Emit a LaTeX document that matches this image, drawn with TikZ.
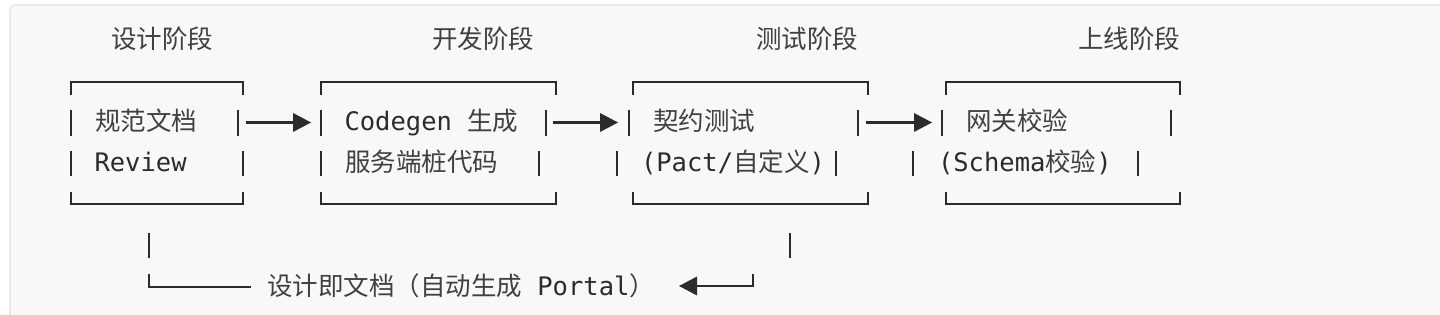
\documentclass[tikz,border=0pt]{standalone}
\usepackage{fontspec}
\setmonofont{DejaVu Sans Mono}
\newfontfamily\cjk{Noto Sans CJK SC}
\usetikzlibrary{arrows.meta}
\definecolor{bgc}{HTML}{F8F8F8}
\definecolor{bdc}{HTML}{E4E6E9}
\definecolor{inkc}{HTML}{2B2B2B}
\definecolor{cjkc}{HTML}{404040}
\newcommand{\C}[1]{{\cjk\color{cjkc}#1}}
\begin{document}
\begin{tikzpicture}[x=1pt,y=-1pt,
  txt/.style={anchor=base west,inner sep=0pt,outer sep=0pt,text=inkc,
    font=\ttfamily\fontsize{25.5}{30}\selectfont},
  boxl/.style={draw=inkc,line width=2.4pt},
  barl/.style={draw=inkc,line width=2pt},
  arr/.style={draw=inkc,line width=2.2pt},
  tipr/.style={fill=inkc}]
\useasboundingbox (0,0) rectangle (1440,315);
\fill[white] (0,0) rectangle (1440,315);
\draw[bdc,fill=bgc,line width=1.5pt,rounded corners=6pt] (10,5) rectangle (1460,330);
% titles
\node[txt] (t1) at (111,49) {\C{设计阶段}};
\node[txt] (t2) at (432,49) {\C{开发阶段}};
\node[txt] (t3) at (756,49) {\C{测试阶段}};
\node[txt] (t4) at (1078,49) {\C{上线阶段}};
% box frames
\foreach \L/\R in {71/243,321/556,633/868,946/1180}{
  \draw[boxl] (\L,95) -- (\L,82) -- (\R,82) -- (\R,95);
  \draw[boxl] (\L,192) -- (\L,204) -- (\R,204) -- (\R,192);
}
% side bars
\foreach \x in {71,238,321,546,629,858,942,1171}{\draw[barl] (\x,110) -- (\x,136);}
\foreach \x in {71,243,321,539,617,836,913,1138}{\draw[barl] (\x,151) -- (\x,176);}
% row texts
\node[txt] (n11) at (95,131) {\C{规范文档}};
\node[txt] (n21) at (344.5,131) {Codegen \C{生成}};
\node[txt] (n31) at (653,131) {\C{契约测试}};
\node[txt] (n41) at (966,131) {\C{网关校验}};
\node[txt] (n12) at (94.5,172) {Review};
\node[txt] (n22) at (345,172) {\C{服务端桩代码}};
\node[txt] (n32) at (641,172) {(Pact/\C{自定义})};
\node[txt] (n42) at (938,172) {(Schema\C{校验})};
% arrows
\foreach \s/\e/\n in {246/311/1,553/618/2,866/932/3}{
  \coordinate (a\n s) at (\s,122.5);
  \coordinate (a\n e) at (\e,122.5);
  \draw[arr] (a\n s) -- ([xshift=-16pt]a\n e);
  \fill[tipr] (a\n e) -- ++(-18,-9.5) -- ++(0,19) -- cycle;
}
% feedback line
\draw[barl] (149,233) -- (149,258);
\draw[barl] (790,233) -- (790,258);
\coordinate (fbs) at (149,274); \coordinate (fbe) at (251,287);
\draw[boxl] (fbs) |- (fbe);
\node[txt] (n6) at (267,295) {\C{设计即文档（自动生成} Portal\C{）}};
\coordinate (rbs) at (753,274); \coordinate (rbe) at (679,286);
\draw[boxl] (rbs) |- ([xshift=16pt]rbe);
\fill[tipr] (rbe) -- ++(18,-9.5) -- ++(0,19) -- cycle;
\end{tikzpicture}
\end{document}
